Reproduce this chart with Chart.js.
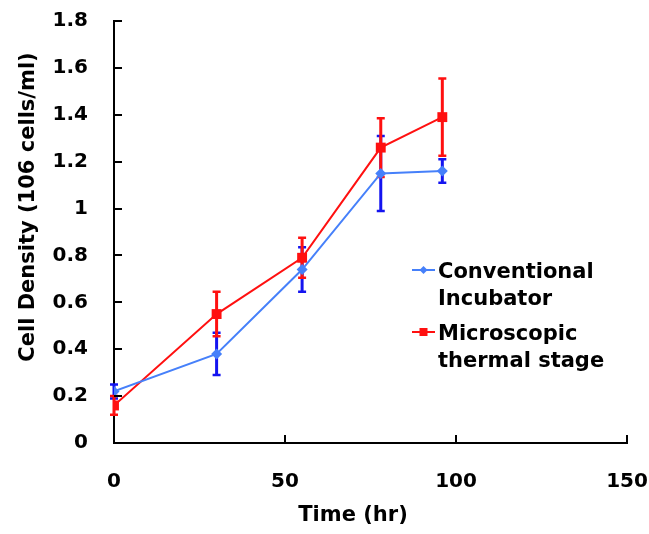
<!DOCTYPE html>
<html>
<head>
<meta charset="utf-8">
<script src="https://cdn.jsdelivr.net/npm/chart.js@4"></script>
<style>
  html, body { margin: 0; padding: 0; background: #ffffff; }
  canvas { display: block; }
</style>
</head>
<body>
<canvas id="chart" width="649" height="534"></canvas>
<script>
// Sampling times (hr)
const times = [0, 30, 55, 78, 96];

// Cell density (10^6 cells/ml) and standard deviations
const conventional    = [0.22, 0.38, 0.74, 1.15, 1.16];
const conventionalErr = [0.03, 0.09, 0.095, 0.16, 0.05];
const microscopic     = [0.16, 0.55, 0.79, 1.26, 1.39];
const microscopicErr  = [0.04, 0.095, 0.085, 0.125, 0.165];

// Axis ticks
const xTicks = [0, 50, 100, 150];
const yTicks = [0, 0.2, 0.4, 0.6, 0.8, 1, 1.2, 1.4, 1.6, 1.8];

// Labels
const seriesNames = [['Conventional', 'Incubator'], ['Microscopic', 'thermal stage']];
const xTitle = 'Time (hr)';
const yTitle = 'Cell Density (106 cells/ml)';

const FONT = '"DejaVu Sans", "Liberation Sans", sans-serif';
const BLUE_LINE = '#4680fa';
const BLUE_BAR = '#1414f0';
const RED = '#ff1010';

const toPoints = (vals) => vals.map((v, i) => ({ x: times[i], y: v }));

// Vertical error bars with flat caps, drawn beneath the series
const errorBars = {
  id: 'errorBars',
  beforeDatasetsDraw(chart) {
    const { ctx, scales: { x, y } } = chart;
    chart.data.datasets.forEach(ds => {
      ctx.save();
      ctx.strokeStyle = ds.errorColor;
      ds.data.forEach((p, i) => {
        const e = ds.errors[i];
        const px = x.getPixelForValue(p.x);
        const top = y.getPixelForValue(p.y + e);
        const bot = y.getPixelForValue(p.y - e);
        ctx.lineWidth = 3;
        ctx.beginPath();
        ctx.moveTo(px, top);
        ctx.lineTo(px, bot);
        ctx.stroke();
        ctx.lineWidth = 2.5;
        ctx.beginPath();
        ctx.moveTo(px - 4, top); ctx.lineTo(px + 4, top);
        ctx.moveTo(px - 4, bot); ctx.lineTo(px + 4, bot);
        ctx.stroke();
      });
      ctx.restore();
    });
  }
};

// Inward tick marks on both axes
const innerTicks = {
  id: 'innerTicks',
  afterDatasetsDraw(chart) {
    const { ctx, scales: { x, y } } = chart;
    ctx.save();
    ctx.strokeStyle = '#000';
    ctx.lineWidth = 2;
    ctx.beginPath();
    yTicks.forEach(v => {
      const py = Math.round(y.getPixelForValue(v));
      ctx.moveTo(x.left, py);
      ctx.lineTo(x.left + 8, py);
    });
    xTicks.forEach(v => {
      if (v === 0) return;
      const px = Math.round(x.getPixelForValue(v));
      ctx.moveTo(px, y.bottom);
      ctx.lineTo(px, y.bottom - 8);
    });
    ctx.stroke();
    ctx.restore();
  }
};

// Axis titles
const axisTitles = {
  id: 'axisTitles',
  afterDraw(chart) {
    const { ctx } = chart;
    ctx.save();
    ctx.fillStyle = '#000';
    ctx.font = 'bold 21px ' + FONT;
    ctx.textAlign = 'center';
    ctx.textBaseline = 'alphabetic';
    ctx.fillText(xTitle, 353, 521);
    ctx.translate(29, 207);
    ctx.rotate(-Math.PI / 2);
    ctx.textBaseline = 'middle';
    ctx.fillText(yTitle, 0, 0);
    ctx.restore();
  }
};

// Legend with two-line entries inside the plot
const sideLegend = {
  id: 'sideLegend',
  afterDraw(chart) {
    const { ctx } = chart;
    const entries = [
      { ds: chart.data.datasets[0], base: 278 },
      { ds: chart.data.datasets[1], base: 340 }
    ];
    ctx.save();
    entries.forEach((en, k) => {
      const ly = en.base - 8;
      ctx.strokeStyle = en.ds.borderColor;
      ctx.lineWidth = 2;
      ctx.beginPath();
      ctx.moveTo(412, ly);
      ctx.lineTo(435, ly);
      ctx.stroke();
      ctx.fillStyle = en.ds.borderColor;
      if (k === 0) {
        ctx.beginPath();
        ctx.moveTo(423.5, ly - 4); ctx.lineTo(427.5, ly);
        ctx.lineTo(423.5, ly + 4); ctx.lineTo(419.5, ly);
        ctx.closePath();
        ctx.fill();
      } else {
        ctx.fillRect(419.5, ly - 4, 8, 8);
      }
      ctx.fillStyle = '#000';
      ctx.font = 'bold 21px ' + FONT;
      ctx.textAlign = 'left';
      ctx.textBaseline = 'alphabetic';
      seriesNames[k].forEach((t, j) => ctx.fillText(t, 438, en.base + j * 27));
    });
    ctx.restore();
  }
};

new Chart(document.getElementById('chart'), {
  type: 'line',
  data: {
    datasets: [
      {
        label: seriesNames[0].join(' '),
        data: toPoints(conventional),
        errors: conventionalErr,
        errorColor: BLUE_BAR,
        borderColor: BLUE_LINE,
        backgroundColor: BLUE_LINE,
        borderWidth: 2,
        pointStyle: 'rectRot',
        pointRadius: 5.5,
        pointBorderWidth: 0,
        tension: 0
      },
      {
        label: seriesNames[1].join(' '),
        data: toPoints(microscopic),
        errors: microscopicErr,
        errorColor: RED,
        borderColor: RED,
        backgroundColor: RED,
        borderWidth: 2,
        pointStyle: 'rect',
        pointRadius: 7,
        pointBorderWidth: 0,
        tension: 0
      }
    ]
  },
  options: {
    responsive: false,
    animation: false,
    devicePixelRatio: 1,
    layout: { padding: { top: 21, right: 22, left: 0, bottom: 0 } },
    plugins: { legend: { display: false }, tooltip: { enabled: false } },
    scales: {
      x: {
        type: 'linear',
        min: 0, max: 150,
        afterBuildTicks: (s) => { s.ticks = xTicks.map(v => ({ value: v })); },
        afterFit: (s) => { s.height = 91; s.paddingLeft = 0; s.paddingRight = 0; },
        grid: { display: false, drawTicks: false },
        border: { display: true, color: '#000', width: 2 },
        ticks: {
          padding: 27,
          color: '#000',
          font: { family: FONT, size: 20, weight: 'bold' },
          maxRotation: 0
        }
      },
      y: {
        type: 'linear',
        min: 0, max: 1.8,
        afterBuildTicks: (s) => { s.ticks = yTicks.map(v => ({ value: v })); },
        afterFit: (s) => { s.width = 114; s.paddingTop = 0; s.paddingBottom = 0; },
        grid: { display: false, drawTicks: false },
        border: { display: true, color: '#000', width: 2 },
        ticks: {
          padding: 26,
          color: '#000',
          font: { family: FONT, size: 20, weight: 'bold' },
          callback: (v) => String(Number(v.toFixed(1)))
        }
      }
    }
  },
  plugins: [errorBars, innerTicks, axisTitles, sideLegend]
});
</script>
</body>
</html>
